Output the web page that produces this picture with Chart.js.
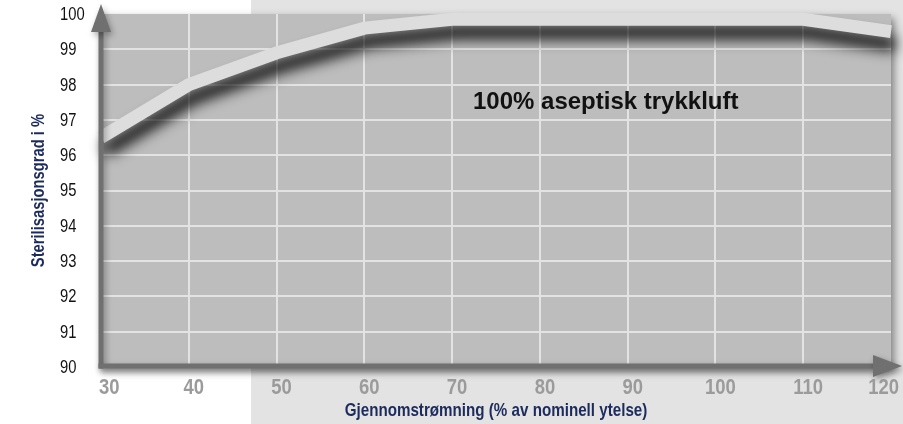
<!DOCTYPE html>
<html>
<head>
<meta charset="utf-8">
<script src="https://cdn.jsdelivr.net/npm/chart.js@4/dist/chart.umd.min.js"></script>
<style>
  html, body { margin: 0; padding: 0; background: #ffffff; }
  #wrap { width: 903px; height: 424px; position: relative; }
</style>
</head>
<body>
<div id="wrap"><canvas id="c" width="903" height="424"></canvas></div>
<script>
// Flow rate (% of nominal capacity) and resulting sterilisation grade (%)
const flowRates = [30, 40, 50, 60, 70, 80, 90, 100, 110, 120];
const sterilisation = [96.5, 98.0, 98.9, 99.6, 99.85, 99.85, 99.85, 99.85, 99.85, 99.5];

const yTickValues = [90, 91, 92, 93, 94, 95, 96, 97, 98, 99, 100];
const xTickValues = [30, 40, 50, 60, 70, 80, 90, 100, 110, 120];

const xTitle = 'Gjennomstrømning (% av nominell ytelse)';
const yTitle = 'Sterilisasjonsgrad i %';
const noteText = '100% aseptisk trykkluft';
const notePos = { x: 87.5, y: 97.5 };

const SANS = "'Liberation Sans', Arial, Helvetica, sans-serif";
const AXIS_COLOR = '#707070';
const TITLE_COLOR = '#1c2b5c';
const NARROW_FACTOR = 0.82;

// Text drawn horizontally compressed, like a condensed grotesque
function narrowText(ctx, text, x, y, font, color, align, rotated) {
  ctx.save();
  ctx.translate(x, y);
  if (rotated) ctx.rotate(-Math.PI / 2);
  ctx.scale(NARROW_FACTOR, 1);
  ctx.font = font;
  ctx.fillStyle = color;
  ctx.textAlign = align;
  ctx.textBaseline = 'middle';
  ctx.fillText(text, 0, 0);
  ctx.restore();
}

function narrowWidth(ctx, text, font) {
  ctx.save();
  ctx.font = font;
  const w = ctx.measureText(text).width * NARROW_FACTOR;
  ctx.restore();
  return w;
}

// Page backdrop, plot panel with soft drop shadow
const backdrop = {
  id: 'backdrop',
  beforeDraw(chart) {
    const { ctx, chartArea: a, width, height } = chart;
    ctx.save();
    ctx.fillStyle = '#ffffff';
    ctx.fillRect(0, 0, width, height);
    ctx.fillStyle = '#e3e3e3';
    ctx.fillRect(251, 0, width - 251, height);
    ctx.shadowColor = 'rgba(0,0,0,0.45)';
    ctx.shadowBlur = 8;
    ctx.shadowOffsetX = 3;
    ctx.shadowOffsetY = 4;
    ctx.fillStyle = '#bdbdbd';
    ctx.fillRect(a.left, a.top, a.right - a.left, a.bottom - a.top);
    ctx.restore();
  }
};

// Dark blurred shadow underneath the curve
const lineShadow = {
  id: 'lineShadow',
  beforeDatasetDraw(chart) {
    const ctx = chart.ctx;
    ctx.save();
    ctx.shadowColor = 'rgba(0,0,0,0.95)';
    ctx.shadowBlur = 14;
    ctx.shadowOffsetX = 4;
    ctx.shadowOffsetY = 13;
  },
  afterDatasetDraw(chart) {
    chart.ctx.restore();
  }
};

// Axis lines with arrow heads, tick labels, axis titles and the note text
const axesAndText = {
  id: 'axesAndText',
  afterDatasetsDraw(chart) {
    const { ctx, chartArea: a, width, height } = chart;
    const xs = chart.scales.x, ys = chart.scales.y;
    const yBase = ys.getPixelForValue(ys.min) - 1;
    const xBase = xs.getPixelForValue(xs.min);

    ctx.save();
    ctx.shadowColor = 'rgba(0,0,0,0.35)';
    ctx.shadowBlur = 6;
    ctx.shadowOffsetX = 2;
    ctx.shadowOffsetY = 3;
    ctx.fillStyle = AXIS_COLOR;
    ctx.strokeStyle = AXIS_COLOR;
    ctx.lineWidth = 5;
    ctx.lineCap = 'butt';
    // vertical axis
    ctx.beginPath();
    ctx.moveTo(xBase, yBase + 2.5);
    ctx.lineTo(xBase, a.top + 18);
    ctx.stroke();
    ctx.beginPath();
    ctx.moveTo(xBase, a.top - 10);
    ctx.lineTo(xBase - 10, a.top + 18);
    ctx.lineTo(xBase + 10, a.top + 18);
    ctx.closePath();
    ctx.fill();
    // horizontal axis
    ctx.beginPath();
    ctx.moveTo(xBase - 2.5, yBase);
    ctx.lineTo(a.right - 18, yBase);
    ctx.stroke();
    ctx.beginPath();
    ctx.moveTo(a.right + 11, yBase);
    ctx.lineTo(a.right - 18, yBase - 11);
    ctx.lineTo(a.right - 18, yBase + 11);
    ctx.closePath();
    ctx.fill();
    ctx.restore();

    // y tick labels, left aligned
    const yFont = '18px ' + SANS;
    yTickValues.forEach(v => {
      narrowText(ctx, String(v), 60, ys.getPixelForValue(v) + 1, yFont, '#111111', 'left', false);
    });

    // x tick labels
    const xFont = 'bold 22.5px ' + SANS;
    xTickValues.forEach(v => {
      const label = String(v);
      const w = narrowWidth(ctx, label, xFont);
      let px = xs.getPixelForValue(v) + 5;
      px = Math.max(px, a.left - 2 + w / 2);
      px = Math.min(px, width - 4 - w / 2);
      narrowText(ctx, label, px, yBase + 22, xFont, '#9b9b9b', 'center', false);
    });

    // axis titles
    const titleFont = 'bold 18.5px ' + SANS;
    narrowText(ctx, xTitle, (a.left + a.right) / 2, height - 13, titleFont, TITLE_COLOR, 'center', false);
    narrowText(ctx, yTitle, 39, (a.top + a.bottom) / 2, 'bold 18px ' + SANS, TITLE_COLOR, 'center', true);

    // note inside the plot
    ctx.save();
    ctx.font = 'bold 24px ' + SANS;
    ctx.fillStyle = '#111111';
    ctx.textAlign = 'center';
    ctx.textBaseline = 'middle';
    ctx.fillText(noteText, xs.getPixelForValue(notePos.x), ys.getPixelForValue(notePos.y));
    ctx.restore();
  }
};

new Chart(document.getElementById('c'), {
  type: 'line',
  data: {
    datasets: [{
      data: flowRates.map((f, i) => ({ x: f, y: sterilisation[i] })),
      borderColor: '#dcdddc',
      borderWidth: 13,
      pointRadius: 0,
      tension: 0,
      fill: false,
      clip: false
    }]
  },
  options: {
    responsive: false,
    animation: false,
    events: [],
    layout: { padding: { top: 14, right: 12, bottom: 57, left: 101 } },
    plugins: {
      legend: { display: false },
      tooltip: { enabled: false },
      title: { display: false }
    },
    scales: {
      x: {
        type: 'linear',
        min: 30,
        max: 120,
        afterBuildTicks(scale) { scale.ticks = xTickValues.map(v => ({ value: v })); },
        afterFit(scale) { scale.height = 0; scale.paddingLeft = 0; scale.paddingRight = 0; },
        ticks: { display: false },
        grid: {
          drawTicks: false,
          lineWidth: 2,
          color: c => (c.tick && (c.tick.value === 120 || c.tick.value === 30)) ? 'rgba(0,0,0,0)' : '#e3e3e3'
        },
        border: { display: false }
      },
      y: {
        type: 'linear',
        min: 90,
        max: 100,
        afterBuildTicks(scale) { scale.ticks = yTickValues.map(v => ({ value: v })); },
        afterFit(scale) { scale.width = 0; scale.paddingTop = 0; scale.paddingBottom = 0; },
        ticks: { display: false },
        grid: {
          drawTicks: false,
          lineWidth: 2,
          color: c => (c.tick && (c.tick.value === 100 || c.tick.value === 90)) ? 'rgba(0,0,0,0)' : '#e3e3e3'
        },
        border: { display: false }
      }
    }
  },
  plugins: [backdrop, lineShadow, axesAndText]
});
</script>
</body>
</html>
